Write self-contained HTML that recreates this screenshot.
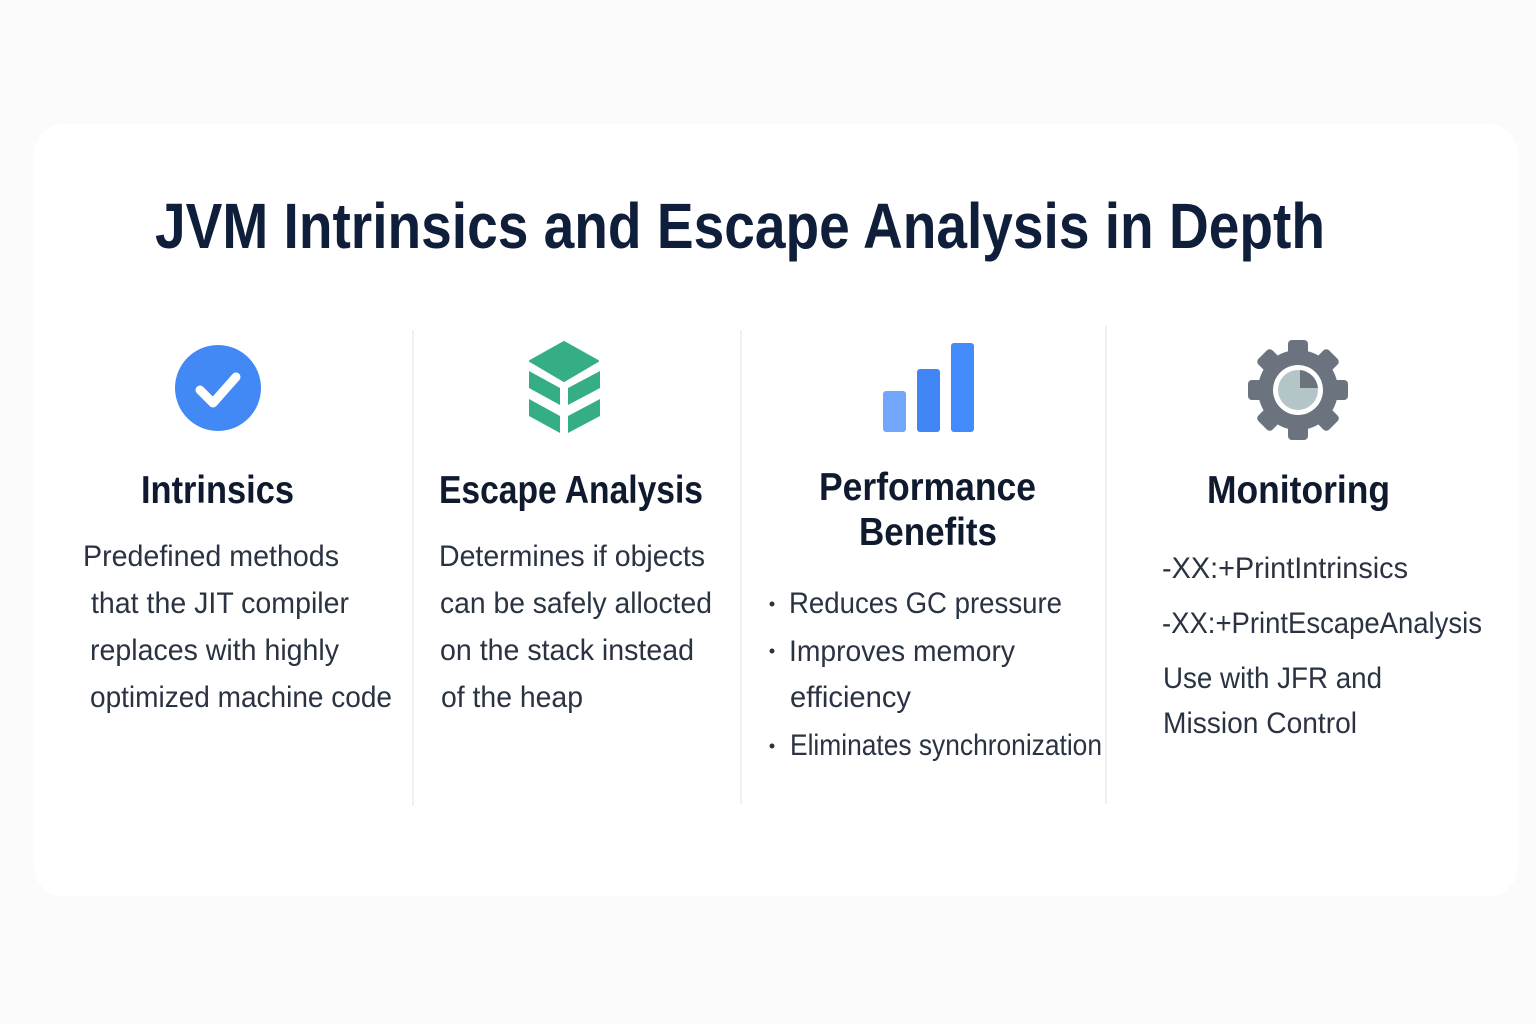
<!DOCTYPE html>
<html><head><meta charset="utf-8"><style>
html,body{margin:0;padding:0;background:#fbfbfb;}
svg{display:block}
text{font-family:"Liberation Sans",sans-serif;}
.h{font-size:39px;font-weight:bold;fill:#101a2e;}
.b{font-size:30px;fill:#2a3342;}
</style></head><body>
<svg width="1536" height="1024" viewBox="0 0 1536 1024" xmlns="http://www.w3.org/2000/svg">
<rect x="0" y="0" width="1536" height="1024" fill="#fbfbfb"/>
<rect x="34" y="124" width="1484" height="772" rx="30" fill="#ffffff"/>
<text x="155" y="248" font-size="64" font-weight="bold" fill="#0f1e3a" textLength="1170" lengthAdjust="spacingAndGlyphs">JVM Intrinsics and Escape Analysis in Depth</text>
<g stroke="#ececec" stroke-width="1.5">
<line x1="413" y1="330" x2="413" y2="806"/>
<line x1="741" y1="330" x2="741" y2="804"/>
<line x1="1106" y1="326" x2="1106" y2="804"/>
</g>
<!-- icon 1 -->
<circle cx="218" cy="388" r="43" fill="#4289f5"/>
<polyline points="200,390 213,403 236,377" fill="none" stroke="#fff" stroke-width="9" stroke-linecap="round" stroke-linejoin="round"/>
<!-- icon 2 cube -->
<g fill="#35ad85">
<polygon points="564,342 598,361 564,381 530,361" stroke="#35ad85" stroke-width="2" stroke-linejoin="round"/>
<polygon points="529,371 560,388 560,405 529,388"/>
<polygon points="568,388 600,371 600,388 568,405"/>
<polygon points="529,399 560,416 560,433 529,416"/>
<polygon points="568,416 600,399 600,416 568,433"/>
</g>
<!-- icon 3 bars -->
<rect x="883" y="391" width="23" height="41" rx="3" fill="#72a6fb"/>
<rect x="917" y="369" width="23" height="63" rx="3" fill="#3f86f4"/>
<rect x="951" y="343" width="23" height="89" rx="3" fill="#438bfa"/>
<!-- icon 4 gear -->
<g transform="translate(1298,390)">
<g fill="#6b737e">
<circle r="40"/>
<rect x="-10" y="-50" width="20" height="100" rx="4"/>
<rect x="-10" y="-50" width="20" height="100" rx="4" transform="rotate(45)"/>
<rect x="-10" y="-50" width="20" height="100" rx="4" transform="rotate(90)"/>
<rect x="-10" y="-50" width="20" height="100" rx="4" transform="rotate(135)"/>
</g>
<circle r="25" fill="#fff"/>
<circle r="20" fill="#b4c5c8"/>
<path d="M2,-20 A20,20 0 0 1 20,-2 L2,-2 Z" fill="#6b737e"/>
</g>
<!-- headings -->
<text class="h" x="141" y="503" textLength="153" lengthAdjust="spacingAndGlyphs">Intrinsics</text>
<text class="h" x="439" y="503" textLength="264" lengthAdjust="spacingAndGlyphs">Escape Analysis</text>
<text class="h" x="819" y="500" textLength="217" lengthAdjust="spacingAndGlyphs">Performance</text>
<text class="h" x="859" y="545" textLength="138" lengthAdjust="spacingAndGlyphs">Benefits</text>
<text class="h" x="1207" y="503" textLength="183" lengthAdjust="spacingAndGlyphs">Monitoring</text>
<!-- col1 -->
<text class="b" x="83" y="566" textLength="256" lengthAdjust="spacingAndGlyphs">Predefined methods</text>
<text class="b" x="91" y="613" textLength="258" lengthAdjust="spacingAndGlyphs">that the JIT compiler</text>
<text class="b" x="90" y="660" textLength="249" lengthAdjust="spacingAndGlyphs">replaces with highly</text>
<text class="b" x="90" y="707" textLength="302" lengthAdjust="spacingAndGlyphs">optimized machine code</text>
<!-- col2 -->
<text class="b" x="439" y="566" textLength="266" lengthAdjust="spacingAndGlyphs">Determines if objects</text>
<text class="b" x="440" y="613" textLength="272" lengthAdjust="spacingAndGlyphs">can be safely allocted</text>
<text class="b" x="440" y="660" textLength="254" lengthAdjust="spacingAndGlyphs">on the stack instead</text>
<text class="b" x="441" y="707" textLength="142" lengthAdjust="spacingAndGlyphs">of the heap</text>
<!-- col3 -->
<g fill="#2a3342"><circle cx="772" cy="604" r="2.5"/><circle cx="772" cy="651" r="2.5"/><circle cx="772" cy="746" r="2.5"/></g>
<text class="b" x="789" y="613" textLength="273" lengthAdjust="spacingAndGlyphs">Reduces GC pressure</text>
<text class="b" x="789" y="661" textLength="226" lengthAdjust="spacingAndGlyphs">Improves memory</text>
<text class="b" x="790" y="707" textLength="121" lengthAdjust="spacingAndGlyphs">efficiency</text>
<text class="b" x="790" y="755" textLength="312" lengthAdjust="spacingAndGlyphs">Eliminates synchronization</text>
<!-- col4 -->
<text class="b" x="1162" y="578" textLength="246" lengthAdjust="spacingAndGlyphs">-XX:+PrintIntrinsics</text>
<text class="b" x="1162" y="633" textLength="320" lengthAdjust="spacingAndGlyphs">-XX:+PrintEscapeAnalysis</text>
<text class="b" x="1163" y="688" textLength="219" lengthAdjust="spacingAndGlyphs">Use with JFR and</text>
<text class="b" x="1163" y="733" textLength="194" lengthAdjust="spacingAndGlyphs">Mission Control</text>
</svg>
</body></html>
